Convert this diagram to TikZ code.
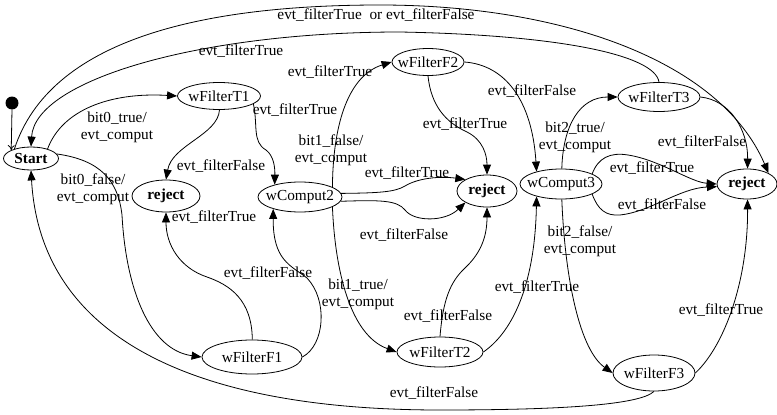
\documentclass[tikz,border=0pt]{standalone}
\usepackage{fontspec}
\setmainfont{Liberation Serif}
\usetikzlibrary{shapes.geometric,arrows.meta}

\begin{document}
\begin{tikzpicture}[x=1pt,y=-1pt]
	\tikzset{every node/.style={font=\fontsize{15.3}{17}\selectfont},
		state/.style={ellipse, draw=black, line width=0.8pt, inner xsep=-15pt, inner ysep=-4pt},
		lbl/.style={inner sep=0pt, align=center},
		tr/.style={line width=0.8pt, -{Triangle[length=10pt,width=8pt]}}
	}
	\useasboundingbox (0,0) rectangle (777,415);

	% states
	\node (init) at (12,103) [circle, fill=black, inner sep=0pt, minimum size=13pt] {};
	\node (start) at (31,158.5) [state, minimum width=55pt, minimum height=23pt] {\bfseries Start};
	\node (wft1) at (219,96) [state, minimum width=83pt, minimum height=27pt] {wFilterT1};
	\node (wff1) at (252,357) [state, minimum width=100pt, minimum height=34pt] {wFilterF1};
	\node (rej1) at (166,196) [state, minimum width=68pt, minimum height=32pt] {\bfseries reject};
	\node (wc2) at (300,197) [state, minimum width=84pt, minimum height=30pt] {wComput2};
	\node (wff2) at (428,62) [state, minimum width=72pt, minimum height=27pt] {wFilterF2};
	\node (wft2) at (440,352) [state, minimum width=86pt, minimum height=30pt] {wFilterT2};
	\node (rej2) at (487,191) [state, minimum width=60pt, minimum height=32pt] {\bfseries reject};
	\node (wc3) at (561,184) [state, minimum width=82pt, minimum height=30pt] {wComput3};
	\node (wft3) at (659,97) [state, minimum width=82pt, minimum height=29pt] {wFilterT3};
	\node (wff3) at (654,373) [state, minimum width=82pt, minimum height=36pt] {wFilterF3};
	\node (rej3) at (747,184) [state, minimum width=60pt, minimum height=30pt] {\bfseries reject};

	% labels
	\node (l_s_t1) at (117,127) [lbl] {bit0\_true/\\evt\_comput};
	\node (l_s_f1) at (93,189) [lbl] {bit0\_false/\\evt\_comput};
	\node (l_t1_r) at (221,166) [lbl] {evt\_filterFalse};
	\node (l_t1_c) at (295,110) [lbl] {evt\_filterTrue};
	\node (l_f1_r) at (214,217) [lbl] {evt\_filterTrue};
	\node (l_f1_c) at (268,273) [lbl] {evt\_filterFalse};
	\node (l_extra) at (330,72) [lbl] {evt\_filterTrue};
	\node (l_c2_f2) at (331,150) [lbl] {bit1\_false/\\evt\_comput};
	\node (l_c2_rt) at (407,173) [lbl] {evt\_filterTrue};
	\node (l_c2_rf) at (404,235) [lbl] {evt\_filterFalse};
	\node (l_f2_r) at (465,124) [lbl] {evt\_filterTrue};
	\node (l_c2_t2) at (358,294) [lbl] {bit1\_true/\\evt\_comput};
	\node (l_t2_r) at (448,316) [lbl] {evt\_filterFalse};
	\node (l_t2_c) at (537,287) [lbl] {evt\_filterTrue};
	\node (l_f2_c) at (532,91) [lbl] {evt\_filterFalse};
	\node (l_c3_t3) at (575,137) [lbl] {bit2\_true/\\evt\_comput};
	\node (l_c3_rt) at (652,168) [lbl] {evt\_filterTrue};
	\node (l_c3_rf) at (662,205) [lbl] {evt\_filterFalse};
	\node (l_t3_r) at (702,142) [lbl] {evt\_filterFalse};
	\node (l_c3_f3) at (580,241) [lbl] {bit2\_false/\\evt\_comput};
	\node (l_f3_r) at (721,310) [lbl] {evt\_filterTrue};
	\node (l_f3_s) at (434,393) [lbl] {evt\_filterFalse};
	\node (l_t3_s) at (241,51) [lbl] {evt\_filterTrue};
	\node (l_s_r) at (376,15) [lbl] {evt\_filterTrue\ \ or evt\_filterFalse};

	% transitions
	\draw[line width=0.8pt, -{To[length=5pt,width=7pt]}] (init.south) -- (start.157);
	\draw[tr] (start.30) .. controls (62,110) and (110,92) .. (wft1.west);
	\draw[tr] (start.10) .. controls (100,160) and (118,180) .. (122,215) .. controls (126,290) and (150,350) .. (wff1.west);
	\draw[tr] (wft1.-88) .. controls (218,135) and (172,145) .. (rej1.north);
	\draw[tr] (wft1.-13) .. controls (258,125) and (252,142) .. (266,150) .. controls (274,156) and (275,168) .. (wc2.154);
	\draw[tr] (wff1.89) .. controls (252,300) and (230,285) .. (207,277) .. controls (180,268) and (166,245) .. (rej1.south);
	\draw[tr] (wff1.east) .. controls (325,345) and (328,300) .. (307,278) .. controls (290,265) and (273,260) .. (wc2.204);
	\draw[tr] (wc2.17) .. controls (333,120) and (350,75) .. (wff2.west);
	\draw[tr] (wc2.-17) .. controls (335,270) and (350,335) .. (wft2.west);
	\draw[tr] (wc2.5) .. controls (380,193) and (395,192) .. (405,186) .. controls (418,178) and (440,176) .. (rej2.152);
	\draw[tr] (wc2.-6) .. controls (380,200) and (397,200) .. (405,210) .. controls (414,222) and (445,222) .. (rej2.208);
	\draw[tr] (wff2.south) .. controls (431,105) and (445,122) .. (467,132) .. controls (483,140) and (487,155) .. (rej2.north);
	\draw[tr] (wft2.north) .. controls (443,300) and (450,282) .. (465,268) .. controls (482,252) and (487,235) .. (rej2.south);
	\draw[tr] (wff2.east) .. controls (505,65) and (532,100) .. (wc3.153);
	\draw[tr] (wft2.east) .. controls (515,330) and (535,280) .. (wc3.207);
	\draw[tr] (wc3.87) .. controls (563,125) and (580,97) .. (wft3.west);
	\draw[tr] (wc3.-87) .. controls (565,280) and (580,350) .. (wff3.west);
	\draw[tr] (wc3.18) .. controls (598,158) and (610,152) .. (628,155) .. controls (660,160) and (690,182) .. (rej3.west);
	\draw[tr] (wc3.-18) .. controls (598,210) and (606,216) .. (620,215) .. controls (650,212) and (680,188) .. (rej3.185);
	\draw[tr] (wft3.east) .. controls (730,100) and (748,130) .. (rej3.88);
	\draw[tr] (wff3.east) .. controls (725,345) and (748,280) .. (rej3.-88);
	\draw[tr] (start.150) .. controls (50,40) and (200,5) .. (380,5) .. controls (560,5) and (720,60) .. (rej3.north east);
	\draw[tr] (wft3.north) .. controls (655,55) and (560,35) .. (400,32) .. controls (200,32) and (35,80) .. (start.north);
	\draw[tr] (wff3.south) .. controls (640,405) and (560,410) .. (440,410) .. controls (180,410) and (40,330) .. (start.south);
\end{tikzpicture}
\end{document}
